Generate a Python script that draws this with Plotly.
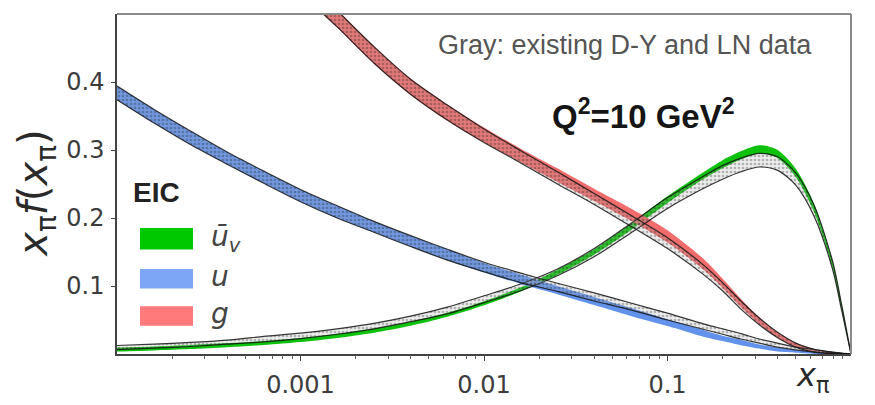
import numpy as np
import plotly.graph_objects as go

# ---------------- data ----------------
x_pi = [1e-4, 1.585e-4, 2.512e-4, 3.981e-4, 6.31e-4,
        1e-3, 1.585e-3, 2.512e-3, 3.981e-3, 6.31e-3,
        0.01, 0.01585, 0.02512, 0.03981, 0.0631,
        0.1, 0.1585, 0.1995, 0.2512, 0.3162, 0.3981, 0.5012, 0.631, 0.7943, 0.8913, 1.0]

# valence anti-u (EIC band)
ubarv_eic = [0.0065, 0.0082, 0.0103, 0.013, 0.0163,
             0.0206, 0.0266, 0.0344, 0.0446, 0.0577,
             0.0746, 0.095, 0.120, 0.150, 0.187,
             0.227, 0.263, 0.279, 0.292, 0.301, 0.294, 0.266, 0.214, 0.131, 0.068, 0.0]
ubarv_eic_err = [0.003, 0.003, 0.003, 0.003, 0.003,
                 0.003, 0.003, 0.003, 0.003, 0.003,
                 0.003, 0.003, 0.004, 0.004, 0.005,
                 0.005, 0.005, 0.006, 0.006, 0.006, 0.006, 0.006, 0.006, 0.005, 0.004, 0.0]
# valence anti-u (existing D-Y and LN data, gray)
ubarv_gray = [0.0095, 0.0115, 0.014, 0.0175, 0.0218,
              0.0266, 0.033, 0.041, 0.0516, 0.064,
              0.0806, 0.098, 0.120, 0.149, 0.185,
              0.222, 0.253, 0.267, 0.278, 0.285, 0.280, 0.257, 0.210, 0.130, 0.067, 0.0]
ubarv_gray_err = [0.003, 0.003, 0.003, 0.003, 0.004,
                  0.004, 0.004, 0.004, 0.004, 0.005,
                  0.005, 0.005, 0.005, 0.006, 0.007,
                  0.008, 0.009, 0.010, 0.010, 0.010, 0.010, 0.009, 0.008, 0.006, 0.004, 0.0]

# sea u (EIC band)
u_eic = [0.384, 0.350, 0.318, 0.288, 0.260,
         0.233, 0.209, 0.187, 0.166, 0.146,
         0.127, 0.110, 0.094, 0.078, 0.062,
         0.046, 0.030, 0.023, 0.017, 0.011, 0.0065, 0.0037, 0.002, 0.0009, 0.0004, 0.0]
u_eic_err = [0.010, 0.010, 0.010, 0.009, 0.009,
             0.009, 0.009, 0.008, 0.008, 0.008,
             0.007, 0.007, 0.006, 0.006, 0.006,
             0.005, 0.005, 0.004, 0.004, 0.003, 0.003, 0.002, 0.002, 0.001, 0.0004, 0.0]
u_gray = [0.384, 0.350, 0.318, 0.288, 0.260,
          0.233, 0.209, 0.187, 0.166, 0.146,
          0.128, 0.112, 0.098, 0.084, 0.070,
          0.055, 0.040, 0.033, 0.026, 0.019, 0.013, 0.008, 0.0045, 0.0018, 0.0008, 0.0]
u_gray_err = [0.010, 0.010, 0.010, 0.009, 0.009,
              0.009, 0.009, 0.008, 0.008, 0.008,
              0.007, 0.007, 0.006, 0.006, 0.005,
              0.005, 0.004, 0.004, 0.004, 0.003, 0.003, 0.002, 0.002, 0.001, 0.0004, 0.0]

# gluon (EIC band)
g_eic = [0.90, 0.82, 0.74, 0.67, 0.605,
         0.545, 0.493, 0.440, 0.393, 0.355,
         0.322, 0.292, 0.263, 0.234, 0.205,
         0.173, 0.131, 0.104, 0.075, 0.049, 0.028, 0.013, 0.005, 0.0015, 0.0006, 0.0]
g_eic_err = [0.014, 0.014, 0.014, 0.014, 0.014,
             0.014, 0.013, 0.013, 0.012, 0.012,
             0.011, 0.010, 0.010, 0.009, 0.009,
             0.009, 0.008, 0.007, 0.006, 0.005, 0.004, 0.003, 0.002, 0.001, 0.0004, 0.0]
g_gray = [0.90, 0.82, 0.74, 0.67, 0.605,
          0.545, 0.493, 0.440, 0.393, 0.355,
          0.321, 0.290, 0.259, 0.228, 0.196,
          0.163, 0.123, 0.099, 0.072, 0.048, 0.028, 0.013, 0.005, 0.0015, 0.0006, 0.0]
g_gray_err = [0.013, 0.013, 0.013, 0.013, 0.013,
              0.013, 0.012, 0.012, 0.011, 0.011,
              0.010, 0.009, 0.009, 0.008, 0.008,
              0.008, 0.007, 0.006, 0.006, 0.005, 0.004, 0.003, 0.002, 0.001, 0.0004, 0.0]

x_tick_vals = [0.001, 0.01, 0.1]
x_tick_text = ["0.001", "0.01", "0.1"]
y_tick_vals = [0.1, 0.2, 0.3, 0.4]
y_tick_text = ["0.1", "0.2", "0.3", "0.4"]

legend_names = ["<i>ū<sub>v</sub></i>", "<i>u</i>", "<i>g</i>"]
colors = ["#00c800", "#7ea6f7", "#ff7a7a"]
band_colors = ["rgba(0,190,0,0.95)", "rgba(90,140,235,0.95)", "rgba(240,100,100,0.95)"]

# ---------------- figure ----------------
# The page body has an 8 px default margin; the figure is sized/margined so that
# the plot area lands at x 117..851, y 14..362 of the 875x405 window.
OFF = 8
FIG_W, FIG_H = 875 - OFF, 405 - OFF
PL, PR, PT, PB = 117, 851, 14, 362

fig = go.Figure()


def band(center, err, fill, line=None, pattern=None):
    c = np.array(center)
    e = np.array(err)
    lo = c - e
    hi = c + e
    lw = 1.2 if line else 0
    lc = line if line else "rgba(0,0,0,0)"
    fig.add_trace(go.Scatter(x=x_pi, y=lo, mode="lines",
                             line=dict(color=lc, width=lw, shape="spline", smoothing=0.8),
                             showlegend=False, hoverinfo="skip"))
    kw = dict(x=x_pi, y=hi, mode="lines", fill="tonexty", fillcolor=fill,
              line=dict(color=lc, width=lw, shape="spline", smoothing=0.8),
              showlegend=False, hoverinfo="skip")
    if pattern:
        kw["fillpattern"] = pattern
    fig.add_trace(go.Scatter(**kw))


dots = dict(shape=".", fgcolor="rgba(20,20,20,0.55)", bgcolor="rgba(170,170,170,0.22)",
            size=4, solidity=0.35)

eic_sets = [(ubarv_eic, ubarv_eic_err), (u_eic, u_eic_err), (g_eic, g_eic_err)]
gray_sets = [(ubarv_gray, ubarv_gray_err), (u_gray, u_gray_err), (g_gray, g_gray_err)]

for (c, e), col in zip(eic_sets, band_colors):
    band(c, e, col)
for (c, e) in gray_sets:
    band(c, e, "rgba(170,170,170,0.22)", line="rgba(20,20,20,0.85)", pattern=dots)

# minor ticks on log axis
minor_vals = [k * 10.0 ** p for p in range(-4, 0) for k in range(2, 10)]

tick_font = dict(family="DejaVu Sans", size=24, color="#3c3c3c")

fig.update_layout(
    width=FIG_W, height=FIG_H,
    margin=dict(l=PL - OFF, r=FIG_W - (PR - OFF), t=PT - OFF, b=FIG_H - (PB - OFF)),
    paper_bgcolor="white", plot_bgcolor="white",
    showlegend=False,
    xaxis=dict(type="log", range=[-4, 0], showgrid=False, zeroline=False,
               showline=True, linecolor="#444", linewidth=1.5,
               tickvals=x_tick_vals, ticktext=x_tick_text,
               ticks="outside", ticklen=5, tickcolor="#444", tickfont=tick_font,
               ticklabelstandoff=3,
               minor=dict(tickvals=minor_vals, ticks="outside", ticklen=3,
                          tickcolor="#666", showgrid=False)),
    yaxis=dict(range=[0, 0.5], showgrid=False, zeroline=False,
               showline=True, linecolor="#444", linewidth=1.5,
               tickvals=y_tick_vals, ticktext=y_tick_text,
               ticks="outside", ticklen=4, tickcolor="#444", tickfont=tick_font,
               ticklabelstandoff=2),
)

# top and right frame (lighter gray)
fig.add_shape(type="line", xref="paper", yref="paper", x0=0, x1=1, y0=1, y1=1,
              line=dict(color="#8a8a8a", width=2))
fig.add_shape(type="line", xref="paper", yref="paper", x0=1, x1=1, y0=0, y1=1,
              line=dict(color="#8a8a8a", width=2))

W, H = float(PR - PL), float(PB - PT)


def px(xp):
    return (xp - PL) / W


def py(yp):
    return (PB - yp) / H


# axis titles
fig.add_annotation(text="<i>x</i><sub>π</sub><i>f</i>(<i>x</i><sub>π</sub>)",
                   xref="paper", yref="paper", x=px(36), y=py(198),
                   textangle=-90, showarrow=False, xanchor="center", yanchor="middle",
                   font=dict(family="DejaVu Sans", size=40, color="#2a2a2a"))
fig.add_annotation(text="<i>x</i><sub>π</sub>", xref="paper", yref="paper",
                   x=px(812), y=py(386), showarrow=False,
                   xanchor="center", yanchor="middle",
                   font=dict(family="DejaVu Sans", size=32, color="#2a2a2a"))

# in-plot texts
fig.add_annotation(text="Gray: existing D-Y and LN data", xref="paper", yref="paper",
                   x=px(625), y=py(46), showarrow=False, xanchor="center", yanchor="middle",
                   font=dict(family="Liberation Sans", size=27, color="#555"))
fig.add_annotation(text="<b>Q<sup>2</sup>=10 GeV<sup>2</sup></b>", xref="paper", yref="paper",
                   x=px(643), y=py(116), showarrow=False, xanchor="center", yanchor="middle",
                   font=dict(family="Liberation Sans", size=33, color="#151515"))

# legend (drawn manually)
fig.add_annotation(text="<b>EIC</b>", xref="paper", yref="paper",
                   x=px(131), y=py(197), showarrow=False, xanchor="left", yanchor="middle",
                   font=dict(family="Liberation Sans", size=28, color="#222"))
sw_y = [(233, 255), (275, 295), (313, 333)]
lab_y = [244, 283, 321]
for name, col, (ya, yb), ly in zip(legend_names, colors, sw_y, lab_y):
    fig.add_shape(type="rect", xref="paper", yref="paper",
                  x0=px(140), x1=px(193), y0=py(yb), y1=py(ya),
                  line=dict(width=0), fillcolor=col)
    fig.add_annotation(text=name, xref="paper", yref="paper", x=px(209), y=py(ly),
                       showarrow=False, xanchor="left", yanchor="middle",
                       font=dict(family="DejaVu Sans", size=28, color="#444"))

fig.write_html("out.html")
